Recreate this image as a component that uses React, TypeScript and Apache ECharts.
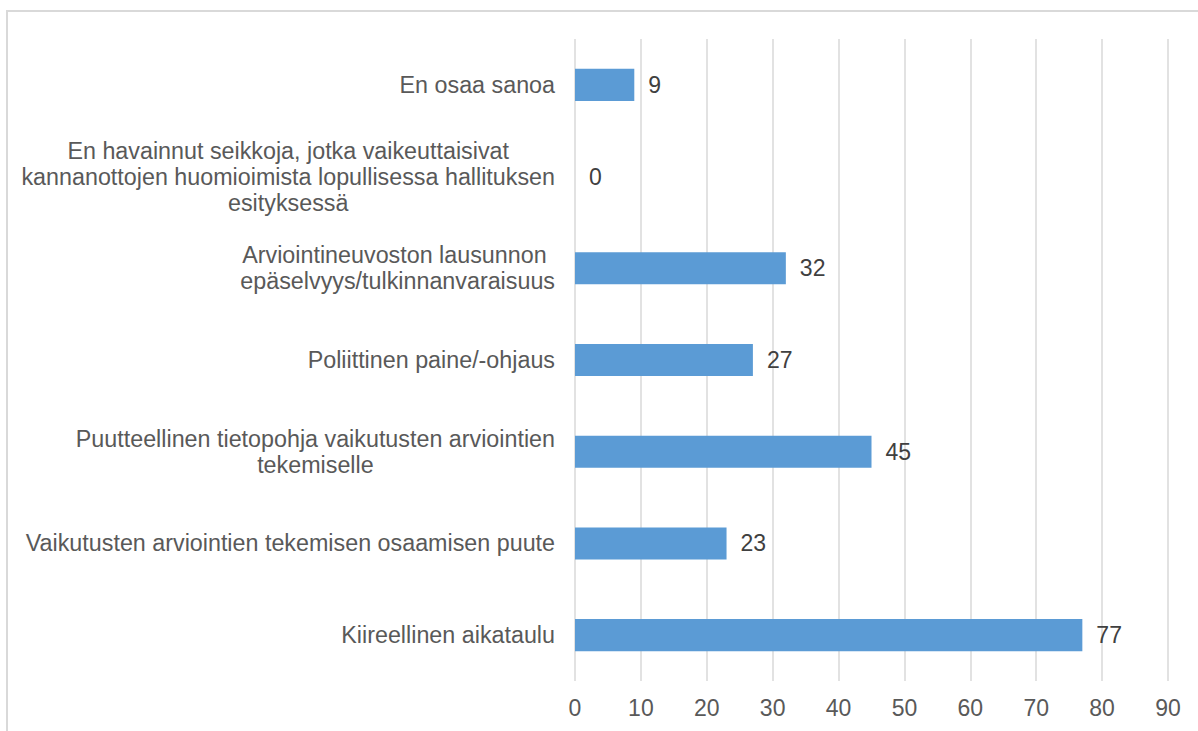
import React, { useEffect, useRef } from "react";
import * as echarts from "echarts";

const categories: string[] = [
  "En osaa sanoa",
  "En havainnut seikkoja, jotka vaikeuttaisivat\nkannanottojen huomioimista lopullisessa hallituksen\nesityksessä",
  "Arviointineuvoston lausunnon \nepäselvyys/tulkinnanvaraisuus",
  "Poliittinen paine/-ohjaus",
  "Puutteellinen tietopohja vaikutusten arviointien\ntekemiselle",
  "Vaikutusten arviointien tekemisen osaamisen puute",
  "Kiireellinen aikataulu",
];

const values: number[] = [9, 0, 32, 27, 45, 23, 77];

const xMin = 0;
const xMax = 90;
const xStep = 10;

const FONT = '"Liberation Sans", Arial, sans-serif';

export default function App() {
  const ref = useRef<HTMLDivElement>(null);

  useEffect(() => {
    if (!ref.current) return;
    const chart = echarts.init(ref.current, undefined, { renderer: "svg" });
    chart.setOption({
      animation: false,
      backgroundColor: "#ffffff",
      textStyle: { fontFamily: FONT },
      graphic: [
        {
          type: "rect",
          shape: { x: 7, y: 11, width: 1220, height: 760 },
          style: { fill: "none", stroke: "#d9d9d9", lineWidth: 2 },
          silent: true,
          z: -1,
        },
      ],
      grid: { left: 575, right: 30, top: 39, bottom: 50, containLabel: false },
      xAxis: {
        type: "value",
        min: xMin,
        max: xMax,
        interval: xStep,
        axisLine: { show: false },
        axisTick: { show: false },
        splitLine: { show: true, lineStyle: { color: "#d9d9d9", width: 1.5 } },
        axisLabel: {
          margin: 15,
          fontSize: 23,
          color: "#595959",
          fontFamily: FONT,
        },
      },
      yAxis: {
        type: "category",
        inverse: true,
        data: categories,
        axisLine: { show: false },
        axisTick: { show: false },
        splitLine: { show: false },
        axisLabel: {
          margin: 20,
          align: "right",
          formatter: (v: string) =>
            v
              .split("\n")
              .map((l) => `{c|${l}}`)
              .join("\n"),
          rich: {
            c: {
              align: "center",
              fontSize: 23.3,
              lineHeight: 26,
              color: "#595959",
              fontFamily: FONT,
            },
          },
        },
      },
      series: [
        {
          type: "bar",
          data: values,
          barWidth: "35%",
          itemStyle: { color: "#5b9bd5" },
          label: {
            show: true,
            position: "right",
            distance: 14,
            fontSize: 23,
            color: "#404040",
            fontFamily: FONT,
          },
        },
      ],
    });
    return () => chart.dispose();
  }, []);

  return (
    <div
      ref={ref}
      style={{ position: "fixed", left: 0, top: 0, width: 1198, height: 731 }}
    />
  );
}
